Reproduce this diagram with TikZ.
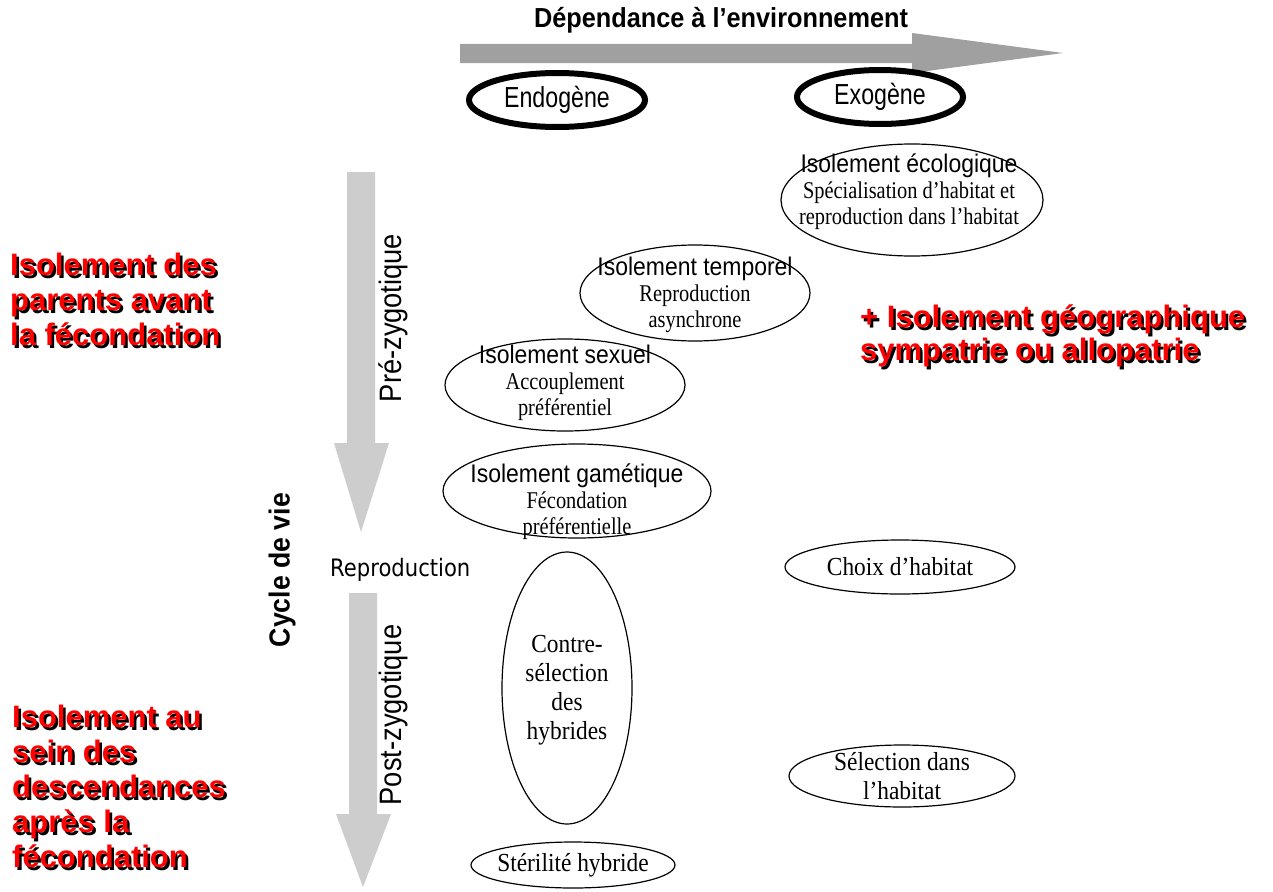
\documentclass[tikz,border=0pt]{standalone}
\usepackage{fontspec}
\setmainfont{Liberation Serif}
\setsansfont{Liberation Sans}
\newfontfamily\comicfont[FakeStretch=0.88]{DejaVu Sans}
\newfontfamily\nsans[FakeStretch=0.9]{Liberation Sans}
\newfontfamily\esans[FakeStretch=0.8]{Liberation Sans}
\newfontfamily\tsans[FakeStretch=0.92]{Liberation Sans}
\newfontfamily\vsans[FakeStretch=0.88]{Liberation Sans}
\newfontfamily\nserif[FakeStretch=0.85]{Liberation Serif}
\newfontfamily\bserif[FakeStretch=0.9]{Liberation Serif}
\usetikzlibrary{shapes.geometric}
\definecolor{hgray}{RGB}{160,160,160}
\definecolor{vgray}{RGB}{205,205,205}
\definecolor{redtext}{RGB}{255,0,0}
\tikzset{
  oval/.style 2 args={draw, ellipse, line width=1.2pt, inner sep=0pt, minimum width=#1, minimum height=#2},
  thickoval/.style 2 args={draw, ellipse, line width=6pt, inner sep=0pt, minimum width=#1, minimum height=#2},
  txt/.style={align=center, inner sep=0pt, font=\nserif\fontsize{24}{26}\selectfont},
  bigtxt/.style={align=center, inner sep=0pt, font=\bserif\fontsize{26}{29}\selectfont},
  redblock/.style={align=left, inner sep=0pt, anchor=north west, font=\sffamily\bfseries\fontsize{31}{35}\selectfont},
  garrowh/.style={fill=hgray, draw=none},
  garrowv/.style={fill=vgray, draw=none},
  vlabel/.style={rotate=90, inner sep=0pt, font=\vsans\fontsize{31}{33}\selectfont}
}
\newcommand{\hd}[1]{{\nsans\fontsize{25.5}{26}\selectfont #1}}
\begin{document}
\begin{tikzpicture}[x=1pt,y=-1pt]
\useasboundingbox[fill=white] (0,0) rectangle (1273,891);

% title and horizontal arrow
\node[inner sep=0pt, font=\tsans\bfseries\fontsize{27.5}{30}\selectfont] (title) at (721,20) {Dépendance à l’environnement};
\path[garrowh] (460,44) -- (912,44) -- (912,33) -- (1063,53) -- (912,73) -- (912,63) -- (460,63) -- cycle;

% Endogene / Exogene
\node[thickoval={176pt}{54pt}] (endo) at (557,100) {};
\node[inner sep=0pt, font=\esans\fontsize{29}{30}\selectfont] (endot) at (endo.center) {Endogène};
\node[thickoval={166pt}{54pt}] (exo) at (880,97) {};
\node[inner sep=0pt, font=\esans\fontsize{29}{30}\selectfont] (exot) at (exo.center) {Exogène};

% vertical arrows
\path[garrowv] (347,172) -- (375,172) -- (375,443) -- (389,443) -- (361,532) -- (334,443) -- (347,443) -- cycle;
\path[garrowv] (349,593) -- (377,593) -- (377,814) -- (391,814) -- (363,887) -- (336,814) -- (349,814) -- cycle;
\node[vlabel] (pre) at (393,318) {Pré-zygotique};
\node[vlabel] (post) at (393,715) {Post-zygotique};
\node[rotate=90, inner sep=0pt, font=\tsans\bfseries\fontsize{29}{30}\selectfont] (cycle) at (282,570) {Cycle de vie};
\node[anchor=west, inner sep=0pt, font=\comicfont\fontsize{24}{25}\selectfont] (repro) at (330,570) {Reproduction};

% ellipses
\node[oval={262pt}{112pt}] (eco) at (912,200) {};
\node[txt] (ecot) at (909,192) {\hd{Isolement écologique}\\Spécialisation d’habitat et\\reproduction dans l’habitat};

\node[oval={230pt}{96pt}] (temp) at (695,293) {};
\node[txt] (tempt) at (695,295) {\hd{Isolement temporel}\\Reproduction\\asynchrone};

\node[oval={240pt}{92pt}] (sex) at (565,385) {};
\node[txt] (sext) at (565,383) {\hd{Isolement sexuel}\\Accouplement\\préférentiel};

\node[oval={268pt}{94pt}] (gam) at (577,491) {};
\node[txt] (gamt) at (577,502) {\hd{Isolement gamétique}\\Fécondation\\préférentielle};

\node[oval={130pt}{272pt}] (contre) at (567,688) {};
\node[bigtxt] (contret) at (567,690) {Contre-\\sélection\\des\\hybrides};

\node[oval={204pt}{46pt}] (steril) at (573,865) {};
\node[bigtxt] (sterilt) at (steril.center) {Stérilité hybride};

\node[oval={230pt}{54pt}] (choix) at (900,567) {};
\node[bigtxt] (choixt) at (choix.center) {Choix d’habitat};

\node[oval={226pt}{62pt}] (sel) at (902,776) {};
\node[bigtxt] (selt) at (sel.center) {Sélection dans\\l’habitat};

% red texts with shadow
\node[redblock, text=black] (r1s) at (12.5,255.5) {Isolement des\\parents avant\\la fécondation};
\node[redblock, text=redtext] (r1) at (10,253) {Isolement des\\parents avant\\la fécondation};

\node[redblock, text=black, font=\sffamily\bfseries\fontsize{31}{33}\selectfont] (r2s) at (862.5,307.5) {+ Isolement géographique\\sympatrie ou allopatrie};
\node[redblock, text=redtext, font=\sffamily\bfseries\fontsize{31}{33}\selectfont] (r2) at (860,305) {+ Isolement géographique\\sympatrie ou allopatrie};

\node[redblock, text=black] (r3s) at (14.5,707.5) {Isolement au\\sein des\\descendances\\après la\\fécondation};
\node[redblock, text=redtext] (r3) at (12,705) {Isolement au\\sein des\\descendances\\après la\\fécondation};
\end{tikzpicture}
\end{document}
